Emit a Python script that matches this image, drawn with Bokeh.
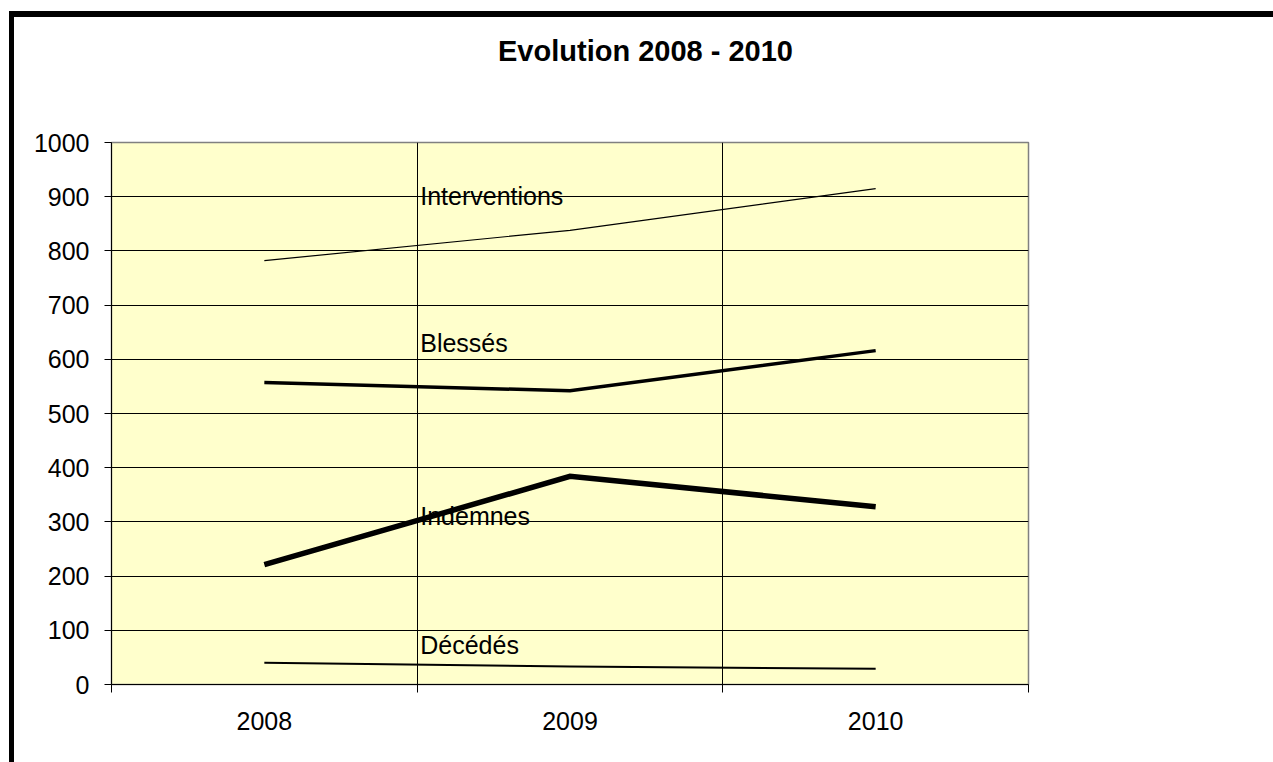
from bokeh.plotting import figure
from bokeh.models import FixedTicker, Range1d, Label, Div
from bokeh.layouts import column
from bokeh.embed import file_html
from bokeh.resources import INLINE

years = ["2008", "2009", "2010"]
interventions = [782, 838, 915]
blesses = [557, 542, 616]
indemnes = [221, 384, 328]
decedes = [40, 33, 29]
series_names = ["Interventions", "Blessés", "Indemnes", "Décédés"]
label_y = [902, 630, 310, 72]
y_ticks = list(range(0, 1001, 100))
title_text = "Evolution 2008 - 2010"

FONT = "Liberation Sans"

xs = [i + 0.5 for i in range(len(years))]

title_div = Div(text=title_text, width=1263, height=69,
                styles={"font-family": FONT, "font-size": "29px", "font-weight": "bold",
                        "text-align": "center", "line-height": "69px", "color": "black",
                        "margin": "0", "padding": "0"})

p = figure(width=1259, height=676, output_backend="svg", toolbar_location=None,
           x_range=Range1d(0, len(years)), y_range=Range1d(0, 1000),
           min_border_left=97, min_border_right=245, min_border_top=56,
           min_border_bottom=78, frame_width=917, frame_height=542)

p.background_fill_color = "#FFFFCC"
p.border_fill_color = "white"
p.outline_line_color = "#808080"
p.outline_line_width = 1.5

# x axis
xt = FixedTicker(ticks=xs, minor_ticks=list(range(len(years) + 1)))
p.xaxis.ticker = xt
p.xaxis.major_label_overrides = {x: y for x, y in zip(xs, years)}
p.xaxis.major_tick_out = 0
p.xaxis.major_tick_in = 0
p.xaxis.minor_tick_out = 8
p.xaxis.minor_tick_in = 0
p.xaxis.minor_tick_line_color = "black"
p.xaxis.axis_line_color = "black"
p.xaxis.major_label_standoff = 19
p.xaxis.major_label_text_font = FONT
p.xaxis.major_label_text_font_size = "25px"
p.xaxis.major_label_text_color = "black"

# y axis
p.yaxis.ticker = FixedTicker(ticks=y_ticks)
p.yaxis.major_tick_out = 7
p.yaxis.major_tick_in = 0
p.yaxis.minor_tick_line_color = None
p.yaxis.axis_line_color = "black"
p.yaxis.major_tick_line_color = "black"
p.yaxis.major_label_standoff = 15
p.yaxis.major_label_text_font = FONT
p.yaxis.major_label_text_font_size = "25px"
p.yaxis.major_label_text_color = "black"

# grids
p.xgrid.ticker = FixedTicker(ticks=list(range(1, len(years))))
p.xgrid.grid_line_color = "black"
p.xgrid.grid_line_width = 1
p.ygrid.ticker = FixedTicker(ticks=y_ticks)
p.ygrid.grid_line_color = "black"
p.ygrid.grid_line_width = 1

# lines
widths = [1.2, 3.5, 5.5, 2]
for vals, w in zip([interventions, blesses, indemnes, decedes], widths):
    p.line(xs, vals, line_color="black", line_width=w, line_join="miter", line_cap="butt")

# series labels
for name, ly in zip(series_names, label_y):
    p.add_layout(Label(x=1.01, y=ly, text=name, text_font=FONT, text_font_size="25px",
                       text_baseline="middle", text_align="left", text_color="black"))

inner = column(title_div, p, spacing=0,
               styles={"border-top": "6px solid black", "border-left": "5px solid black"})
outer = column(inner, styles={"padding-left": "9px", "padding-top": "11px"})

open("out.html", "w").write(file_html(outer, INLINE))
